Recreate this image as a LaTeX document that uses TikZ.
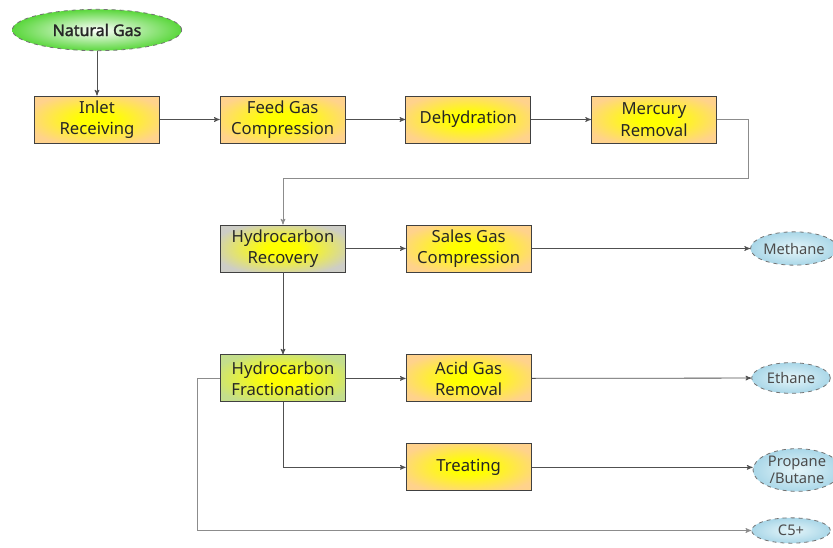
\documentclass[tikz,border=0pt]{standalone}
\usepackage{fontspec}
\setmainfont{Noto Sans}
\newfontfamily\gasfont{Noto Sans}[FakeBold=1.6]
\usetikzlibrary{arrows,shapes.geometric,positioning}

\definecolor{unitedge}{RGB}{255,210,140}
\definecolor{unitcore}{RGB}{255,255,0}
\definecolor{recedge}{RGB}{205,205,198}
\definecolor{fracedge}{RGB}{196,222,140}
\definecolor{feededge}{RGB}{90,215,60}
\definecolor{prodedge}{RGB}{170,215,232}
\definecolor{prodcore}{RGB}{230,246,250}
\definecolor{pipe}{RGB}{80,80,80}

% yellow glow in the middle of each unit box
\pgfdeclareradialshading{unitglow}{\pgfpoint{0bp}{0bp}}{%
  color(0bp)=(unitcore); color(7bp)=(unitcore);
  color(29bp)=(unitedge); color(50bp)=(unitedge)}
\pgfdeclareradialshading{recglow}{\pgfpoint{0bp}{0bp}}{%
  color(0bp)=(unitcore); color(7bp)=(unitcore);
  color(29bp)=(recedge); color(50bp)=(recedge)}
\pgfdeclareradialshading{fracglow}{\pgfpoint{0bp}{0bp}}{%
  color(0bp)=(unitcore); color(7bp)=(unitcore);
  color(29bp)=(fracedge); color(50bp)=(fracedge)}

\tikzset{
  unit/.style={rectangle,draw=black!75,line width=0.7pt,
    minimum width=93.75pt,minimum height=35.25pt,inner sep=1pt,
    align=center,text=black!85,font=\fontsize{12.5}{16}\selectfont,
    shading=unitglow},
  product/.style={ellipse,draw=black!55,dashed,line width=0.6pt,
    inner sep=0pt,align=center,text=black!70,
    font=\fontsize{11}{13}\selectfont,
    inner color=prodcore,outer color=prodedge},
  flow/.style={->,draw=pipe,line width=0.6pt},
}

\begin{document}
\begin{tikzpicture}[x=0.75pt,y=-0.75pt,>=stealth',node distance=44.8pt]
  \useasboundingbox (0,0) rectangle (833,547);
  \clip (0,0) rectangle (833,547);

  % feed
  \node[ellipse,draw=black!55,dashed,line width=0.6pt,
        minimum width=127pt,minimum height=31pt,
        inner color=white,outer color=feededge,
        font=\gasfont\fontsize{12}{14}\selectfont,text=black!85]
        (gas) at (97,30) {Natural Gas};

  % front end train
  \node[unit] (inlet) at (97,119.5) {Inlet\\Receiving};
  \node[unit] (feed) [right=of inlet] {Feed Gas\\Compression};
  \node[unit] (dehy) [right=of feed] {Dehydration};
  \node[unit] (merc) [right=of dehy] {Mercury\\Removal};

  % NGL section
  \node[unit,shading=recglow] (recov) at (283,248.5) {Hydrocarbon\\Recovery};
  \node[unit] (sales) [right=of recov] {Sales Gas\\Compression};
  \node[unit,shading=fracglow] (frac) [below=61.5pt of recov] {Hydrocarbon\\Fractionation};
  \node[unit] (acid) [right=of frac] {Acid Gas\\Removal};
  \node[unit] (treat) [below=30.75pt of acid] {Treating};

  % products
  \node[product,minimum width=63pt,minimum height=25pt] (methane) at (794,248.5) {Methane};
  \node[product,minimum width=59pt,minimum height=23pt] (ethane) at (791,378) {Ethane};
  \node[product,minimum width=66pt,minimum height=32pt] (lpg) at (797,470) {Propane\\/Butane};
  \node[product,minimum width=59pt,minimum height=19pt] (cfive) at (791,530.5) {C5+};

  \coordinate (turn) at (748,178);

  \draw[flow] (gas) -- (inlet);
  \draw[flow] (inlet) -- (feed);
  \draw[flow] (feed) -- (dehy);
  \draw[flow] (dehy) -- (merc);
  \draw[flow,draw=black!45] (merc.east) -| (turn) -| (recov.north);
  \draw[flow] (recov) -- (sales);
  \draw[flow] (recov) -- (frac);
  \draw[flow] (frac) -- (acid);
  \draw[flow] (frac.south) |- (treat.west);
  \draw[flow] (sales) -- (methane);
  \draw[flow] (acid) -- (ethane);
  \draw[flow] (treat) -- (lpg.west |- treat.east);
  \draw[flow,draw=black!45] (frac.west) -- ++(-23,0) |- (cfive.west);
\end{tikzpicture}
\end{document}
